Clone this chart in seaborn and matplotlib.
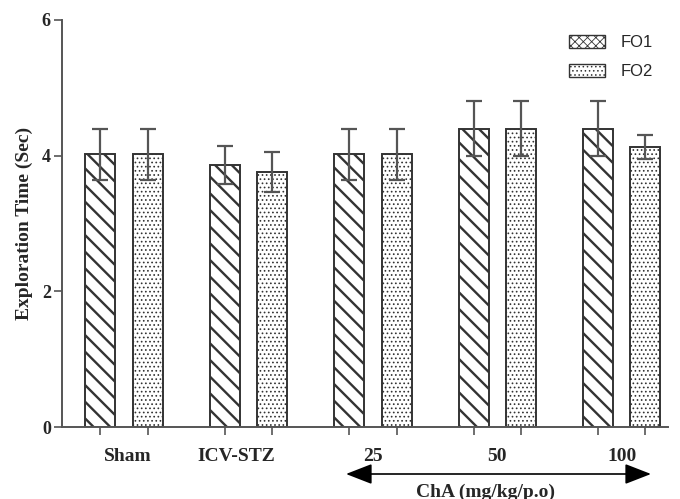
import numpy as np
import pandas as pd
import matplotlib
matplotlib.use("Agg")
import matplotlib.pyplot as plt
import seaborn as sns
from matplotlib.patches import Patch

groups = ["Sham", "ICV-STZ", "25", "50", "100"]
fo1_mean = [4.02, 3.87, 4.02, 4.40, 4.40]
fo1_err = [0.38, 0.28, 0.38, 0.40, 0.40]
fo2_mean = [4.02, 3.76, 4.02, 4.40, 4.13]
fo2_err = [0.38, 0.30, 0.38, 0.40, 0.18]
series = ["FO1", "FO2"]
yticks = [0, 2, 4, 6]

sns.set_theme(style="ticks")
plt.rcParams["font.family"] = ["Liberation Serif", "DejaVu Serif"]
plt.rcParams["hatch.linewidth"] = 1.8
plt.rcParams["hatch.color"] = "black"

df = pd.DataFrame({
    "Group": groups * 2,
    "Test": ["FO1"] * len(groups) + ["FO2"] * len(groups),
    "Time": fo1_mean + fo2_mean,
})

fig = plt.figure(figsize=(6.8, 4.99), dpi=100)
ax = fig.add_axes([0.091, 0.144, 0.891, 0.816])

sns.barplot(data=df, x="Group", y="Time", hue="Test", order=groups,
            hue_order=series, errorbar=None, width=0.76, gap=0.366,
            palette=["white", "white"], edgecolor="#333333",
            linewidth=1.4, legend=False, ax=ax)


def set_hlw(p, lw):
    if hasattr(p, "set_hatch_linewidth"):
        p.set_hatch_linewidth(lw)
    else:
        p._hatch_linewidth = lw


n = len(groups)
for i, p in enumerate(ax.patches[:2 * n]):
    p.set_facecolor("white")
    if i < n:
        p.set_hatch("\\\\")
        set_hlw(p, 1.7)
    else:
        p.set_hatch("....")
        set_hlw(p, 0.7)

# error bars from bar geometry
bars = sorted(ax.patches[:2 * n], key=lambda p: p.get_x())
errs = []
for a, b in zip(fo1_err, fo2_err):
    errs += [a, b]
xs = [p.get_x() + p.get_width() / 2 for p in bars]
ys = [p.get_height() for p in bars]
ax.errorbar(xs, ys, yerr=errs, fmt="none", ecolor="#555555", elinewidth=1.6,
            capsize=6, capthick=1.6, zorder=5)

ax.set_ylim(0, 6)
ax.set_xlim(-0.5, 4.37)
ax.set_yticks(yticks)
ax.set_yticklabels([str(t) for t in yticks], fontsize=13, fontweight="bold")
ax.set_xticks(xs)
ax.set_xticklabels([""] * len(xs))
ax.tick_params(axis="x", length=6, width=1.2, color="#555555")
ax.tick_params(axis="y", length=6, width=1.2, color="#555555", pad=2)
label_pos = [0.03, 0.9, 2, 3, 4]
ax.set_xticks(label_pos, minor=True)
ax.set_xticklabels(groups, minor=True, fontsize=14, fontweight="bold")
ax.tick_params(axis="x", which="minor", length=0, pad=15)
ax.set_xlabel("")
ax.set_ylabel("Exploration Time (Sec)", fontsize=14, fontweight="bold", labelpad=6)

for s in ["top", "right"]:
    ax.spines[s].set_visible(False)
for s in ["left", "bottom"]:
    ax.spines[s].set_color("#555555")
    ax.spines[s].set_linewidth(1.4)

h1 = Patch(facecolor="white", edgecolor="#333333", hatch="xxxx", label="FO1")
h2 = Patch(facecolor="white", edgecolor="#333333", hatch="....", label="FO2")
leg = ax.legend(handles=[h1, h2], loc="upper right", bbox_to_anchor=(1.0, 1.0),
                frameon=False, handlelength=2.2, handleheight=0.8,
                labelspacing=0.85, handletextpad=0.9,
                prop={"family": "Liberation Sans", "size": 12})
for hp in leg.get_patches():
    set_hlw(hp, 0.6)

# arrow + ChA label
ax.annotate("", xy=(651 / 680, 1 - 474 / 499), xytext=(346 / 680, 1 - 474 / 499),
            xycoords="figure fraction", textcoords="figure fraction",
            arrowprops=dict(arrowstyle="<|-|>,head_length=0.9,head_width=0.35",
                            color="black", lw=1.2, mutation_scale=18,
                            shrinkA=0, shrinkB=0),
            annotation_clip=False)
fig.text(485 / 680, 1 - 492 / 499, "ChA (mg/kg/p.o)", ha="center", va="center",
         fontsize=14, fontweight="bold")

fig.savefig("out.png", dpi=100)
